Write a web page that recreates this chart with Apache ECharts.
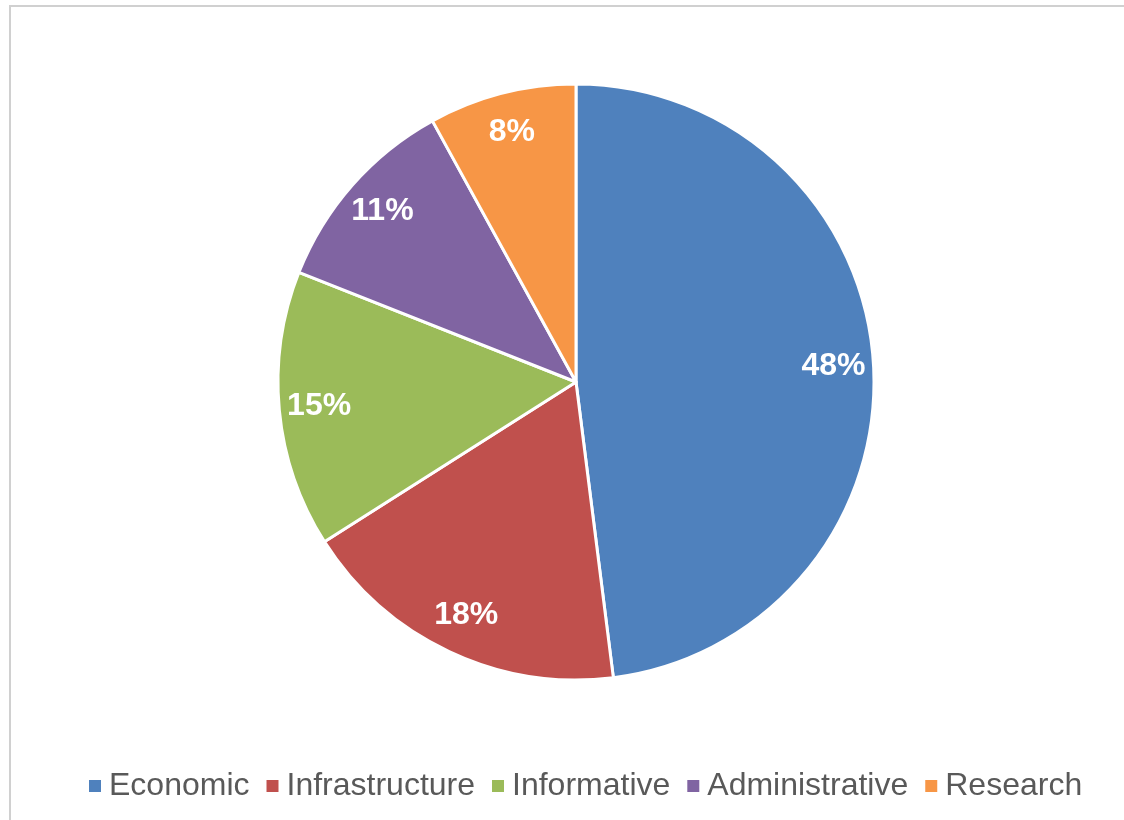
<!DOCTYPE html>
<html>
<head>
<meta charset="utf-8">
<style>
  html, body { margin: 0; padding: 0; background: #ffffff; }
  #chart { width: 1124px; height: 820px; }
</style>
<script src="https://cdn.jsdelivr.net/npm/echarts@6/dist/echarts.min.js"></script>
</head>
<body>
<div id="chart"></div>
<script>
// Share of activity by category (percent)
const categories = ['Economic', 'Infrastructure', 'Informative', 'Administrative', 'Research'];
const shares = [48, 18, 15, 11, 8];
const colors = ['#4F81BD', '#C0504D', '#9BBB59', '#8064A2', '#F79646'];

const pieData = categories.map((name, i) => ({
  name: name,
  value: shares[i],
  itemStyle: { color: colors[i] }
}));

const chart = echarts.init(document.getElementById('chart'), null, { renderer: 'canvas' });

const center = [576, 382];
const outerR = 298;

chart.setOption({
  animation: false,
  backgroundColor: '#ffffff',
  graphic: [{
    type: 'rect',
    silent: true,
    shape: { x: 10, y: 6, width: 1300, height: 1000 },
    style: { fill: null, stroke: '#d0d0d0', lineWidth: 2 }
  }],
  legend: {
    data: categories,
    bottom: 13,
    left: 84,
    icon: 'rect',
    itemWidth: 12,
    itemHeight: 12,
    itemGap: 17,
    itemStyle: { borderWidth: 0 },
    textStyle: {
      fontFamily: 'Liberation Sans, Arial, sans-serif',
      fontSize: 32,
      color: '#595959',
      padding: [0, 0, 0, 3]
    }
  },
  series: [
    {
      type: 'pie',
      center: center,
      radius: [0, outerR],
      startAngle: 90,
      clockwise: true,
      data: pieData,
      label: { show: false },
      labelLine: { show: false },
      itemStyle: { borderColor: '#ffffff', borderWidth: 3 },
      emphasis: { disabled: true }
    },
    {
      // transparent ring used only to place the percentage labels near the rim
      type: 'pie',
      center: center,
      radius: [212, outerR],
      startAngle: 90,
      clockwise: true,
      silent: true,
      legendHoverLink: false,
      data: pieData.map(d => ({ name: d.name, value: d.value, itemStyle: { color: 'rgba(0,0,0,0)' } })),
      itemStyle: { borderWidth: 0 },
      label: {
        show: true,
        position: 'inside',
        formatter: p => p.value + '%',
        color: '#ffffff',
        fontFamily: 'Liberation Sans, Arial, sans-serif',
        fontWeight: 'bold',
        fontSize: 32
      },
      labelLine: { show: false },
      emphasis: { disabled: true }
    }
  ]
});
</script>
</body>
</html>
